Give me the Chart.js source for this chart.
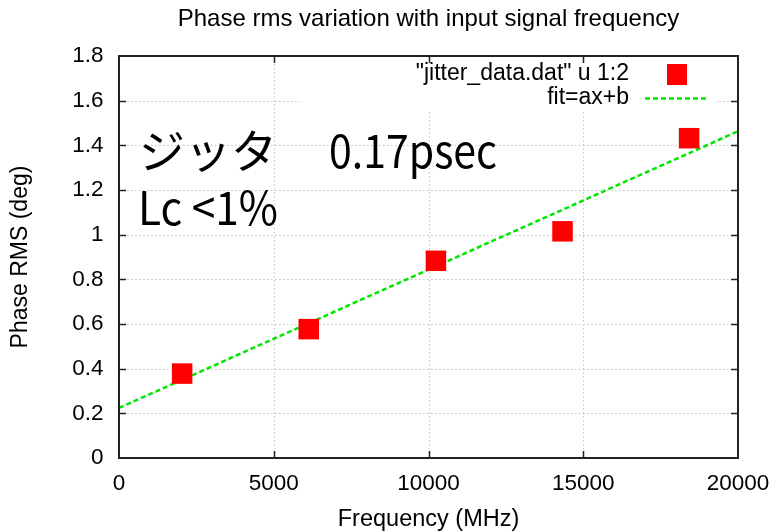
<!DOCTYPE html>
<html>
<head>
<meta charset="utf-8">
<script src="https://cdn.jsdelivr.net/npm/chart.js@4.4.1/dist/chart.umd.min.js"></script>
<style>
    html, body { margin: 0; padding: 0; background: #fff; }
    #wrap { width: 776px; height: 532px; }
</style>
</head>
<body>
<div id="wrap"><canvas id="chart" width="776" height="532"></canvas></div>
<script>
// Medidas (MHz, graus)
const freqMHz = [2040, 6130, 10240, 14330, 18420];
const phaseRms = [0.378, 0.577, 0.883, 1.015, 1.432];

// Reta do ajuste ax+b, extremos
const fitX = [0, 20000];
const fitY = [0.224, 1.463];

const xTicks = [0, 5000, 10000, 15000, 20000];
const yTicks = [0, 0.2, 0.4, 0.6, 0.8, 1, 1.2, 1.4, 1.6, 1.8];

const seriesLabels = ['"jitter_data.dat" u 1:2', 'fit=ax+b'];
const titleText = 'Phase rms variation with input signal frequency';
const noteJitter = 'ジッタ';
const noteValue = '0.17psec';
const noteLc = 'Lc <1%';

const SANS = "'Liberation Sans', Arial, sans-serif";
const NOTE_FONT = "'Noto Sans CJK JP', 'Noto Sans', sans-serif";
const RED = '#ff0000';
const GREEN = '#00e600';

/**
 * Moldura no estilo gnuplot: grade pontilhada, caixa da legenda,
 * borda com marcas internas, título e anotações
 */
const gnuplotFrame = {
    id: 'gnuplotFrame',

    beforeDatasetsDraw(chart) {
        const { ctx, chartArea: a, scales: { x, y } } = chart;
        ctx.save();

        // grade pontilhada
        ctx.strokeStyle = '#c4c4c4';
        ctx.lineWidth = 1;
        ctx.setLineDash([1.5, 2.5]);
        xTicks.slice(1, -1).forEach(v => {
            const px = Math.round(x.getPixelForValue(v)) + 0.5;
            ctx.beginPath();
            ctx.moveTo(px, a.top);
            ctx.lineTo(px, a.bottom);
            ctx.stroke();
        });
        yTicks.slice(1, -1).forEach(v => {
            const py = Math.round(y.getPixelForValue(v)) + 0.5;
            ctx.beginPath();
            ctx.moveTo(a.left, py);
            ctx.lineTo(a.right, py);
            ctx.stroke();
        });
        ctx.setLineDash([]);

        // caixa opaca da legenda
        ctx.fillStyle = '#fff';
        ctx.fillRect(300, a.top + 1, a.right - 22 - 300, 53);

        ctx.restore();
    },

    afterDatasetsDraw(chart) {
        const { ctx, chartArea: a, scales: { x, y } } = chart;
        ctx.save();

        // borda
        ctx.strokeStyle = '#222';
        ctx.lineWidth = 2;
        ctx.strokeRect(a.left, a.top, a.right - a.left, a.bottom - a.top);

        // marcas internas (espelhadas)
        const tl = 7;
        ctx.lineWidth = 1.5;
        xTicks.slice(1, -1).forEach(v => {
            const px = Math.round(x.getPixelForValue(v)) + 0.5;
            ctx.beginPath();
            ctx.moveTo(px, a.bottom); ctx.lineTo(px, a.bottom - tl);
            ctx.moveTo(px, a.top); ctx.lineTo(px, a.top + tl);
            ctx.stroke();
        });
        yTicks.slice(1, -1).forEach(v => {
            const py = Math.round(y.getPixelForValue(v)) + 0.5;
            ctx.beginPath();
            ctx.moveTo(a.left, py); ctx.lineTo(a.left + tl, py);
            ctx.moveTo(a.right, py); ctx.lineTo(a.right - tl, py);
            ctx.stroke();
        });

        // legenda
        ctx.fillStyle = '#000';
        ctx.font = '23px ' + SANS;
        ctx.textAlign = 'right';
        ctx.textBaseline = 'middle';
        ctx.fillText(seriesLabels[0], a.right - 109, a.top + 18);
        ctx.fillText(seriesLabels[1], a.right - 109, a.top + 42);

        ctx.fillStyle = RED;
        ctx.fillRect(a.right - 71, a.top + 8, 20, 21);

        ctx.strokeStyle = GREEN;
        ctx.lineWidth = 2.5;
        ctx.setLineDash([5, 3]);
        ctx.beginPath();
        ctx.moveTo(a.right - 93, a.top + 42.5);
        ctx.lineTo(a.right - 30, a.top + 42.5);
        ctx.stroke();
        ctx.setLineDash([]);

        // título
        ctx.fillStyle = '#000';
        ctx.font = '24px ' + SANS;
        ctx.textAlign = 'center';
        ctx.fillText(titleText, (a.left + a.right) / 2, 19);

        // anotações
        ctx.font = '46px ' + NOTE_FONT;
        ctx.textAlign = 'left';
        ctx.textBaseline = 'alphabetic';
        ctx.fillText(noteJitter, 139, 168);
        ctx.fillText(noteValue, 329, 168, 168);
        ctx.fillText(noteLc, 138, 225, 140);

        ctx.restore();
    }
};

const ctx = document.getElementById('chart').getContext('2d');

new Chart(ctx, {
    type: 'scatter',
    data: {
        datasets: [
            {
                label: seriesLabels[0],
                data: freqMHz.map((f, i) => ({ x: f, y: phaseRms[i] })),
                pointStyle: 'rect',
                pointRadius: 14.5,
                pointHoverRadius: 14.5,
                borderWidth: 0,
                backgroundColor: RED,
                borderColor: RED,
                order: 1
            },
            {
                label: seriesLabels[1],
                type: 'line',
                data: fitX.map((f, i) => ({ x: f, y: fitY[i] })),
                borderColor: GREEN,
                borderWidth: 2.5,
                borderDash: [5, 3],
                pointRadius: 0,
                fill: false,
                order: 2
            }
        ]
    },
    options: {
        responsive: false,
        animation: false,
        layout: {
            padding: { top: 56, right: 38, bottom: 0, left: 0 }
        },
        plugins: {
            legend: { display: false },
            title: { display: false },
            tooltip: { enabled: false }
        },
        scales: {
            x: {
                type: 'linear',
                min: 0,
                max: 20000,
                afterBuildTicks: s => { s.ticks = xTicks.map(v => ({ value: v })); },
                afterFit: s => {
                    s.height = 74;
                    s.paddingLeft = 0;
                    s.paddingRight = 0;
                },
                grid: { display: false, drawTicks: false },
                border: { display: false },
                ticks: {
                    color: '#000',
                    padding: 12,
                    maxRotation: 0,
                    font: { family: SANS, size: 22.5 },
                    callback: v => String(v)
                },
                title: {
                    display: true,
                    text: 'Frequency (MHz)',
                    color: '#000',
                    font: { family: SANS, size: 23.5, lineHeight: 1.1 },
                    padding: { top: 0, bottom: 0 }
                }
            },
            y: {
                type: 'linear',
                min: 0,
                max: 1.8,
                afterBuildTicks: s => { s.ticks = yTicks.map(v => ({ value: v })); },
                afterFit: s => {
                    s.width = 119;
                    s.paddingTop = 0;
                    s.paddingBottom = 0;
                },
                grid: { display: false, drawTicks: false },
                border: { display: false },
                ticks: {
                    color: '#000',
                    padding: 15.5,
                    font: { family: SANS, size: 22.5 },
                    callback: v => String(v)
                },
                title: {
                    display: true,
                    text: 'Phase RMS (deg)',
                    color: '#000',
                    font: { family: SANS, size: 23, lineHeight: 1.2 },
                    padding: { top: 7, bottom: 0 }
                }
            }
        }
    },
    plugins: [gnuplotFrame]
});
</script>
</body>
</html>
